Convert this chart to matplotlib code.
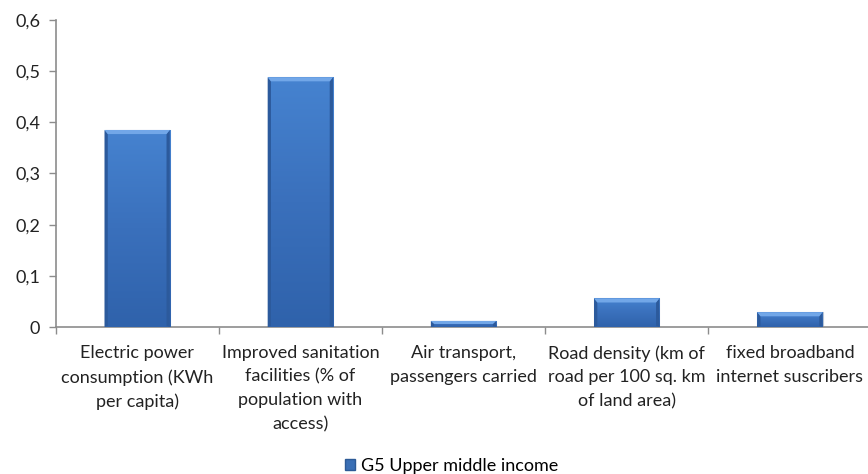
import numpy as np
import matplotlib.pyplot as plt
from matplotlib.colors import LinearSegmentedColormap
from matplotlib.patches import Rectangle, Polygon

categories = [
    "Electric power\nconsumption (KWh\nper capita)",
    "Improved sanitation\nfacilities (% of\npopulation with\naccess)",
    "Air transport,\npassengers carried",
    "Road density (km of\nroad per 100 sq. km\nof land area)",
    "fixed broadband\ninternet suscribers",
]
values = [0.385, 0.488, 0.012, 0.056, 0.029]
series_name = "G5 Upper middle income"
yticks = [0, 0.1, 0.2, 0.3, 0.4, 0.5, 0.6]
ytick_labels = ["0", "0,1", "0,2", "0,3", "0,4", "0,5", "0,6"]

plt.rcParams['font.family'] = ['Lato', 'DejaVu Sans']

fig = plt.figure(figsize=(8.68, 4.74), dpi=100)
ax = fig.add_axes([0.064, 0.31, 0.94, 0.648])

x = np.arange(len(categories))
bars = ax.bar(x, values, width=0.4, color='#3f76c2', edgecolor='#b8c4d4', linewidth=0.8, zorder=2)

# vertical shading, lighter at the top
cmap = LinearSegmentedColormap.from_list('shade', ['#2f62ab', '#3a70bc', '#4683d0'])
grad = np.linspace(0, 1, 256).reshape(-1, 1)
bevel = 0.008   # height of the top bevel, in data units
side = 0.02     # width of the side bevels, in category units
for b in bars:
    x0, w, h = b.get_x(), b.get_width(), b.get_height()
    im = ax.imshow(grad, cmap=cmap, aspect='auto', origin='lower',
                   extent=[x0, x0 + w, 0, h], zorder=3)
    im.set_clip_path(b)
    cap = min(bevel, h * 0.5)
    # darker sides and a lighter sloped top edge
    ax.add_patch(Polygon([(x0, 0), (x0 + side, cap * 0.3), (x0 + side, h - cap), (x0, h)],
                         closed=True, color='#2c5a9c', lw=0, zorder=4))
    ax.add_patch(Polygon([(x0 + w, 0), (x0 + w - side, cap * 0.3), (x0 + w - side, h - cap), (x0 + w, h)],
                         closed=True, color='#2c5a9c', lw=0, zorder=4))
    ax.add_patch(Polygon([(x0, h), (x0 + w, h), (x0 + w - side, h - cap), (x0 + side, h - cap)],
                         closed=True, color='#72a7e8', lw=0, zorder=4))

ax.set_xlim(-0.5, len(categories) - 0.5)
ax.set_ylim(0, 0.6)
ax.set_yticks(yticks)
ax.set_yticklabels(ytick_labels, fontsize=13, color='#222222')
ax.set_xticks(x)
ax.set_xticklabels(categories, fontsize=13, color='#222222', linespacing=1.58, va='top')
ax.tick_params(axis='x', length=0, pad=13)
ax.set_xticks(np.arange(-0.5, len(categories) + 0.5, 1), minor=True)
ax.tick_params(axis='x', which='minor', length=5, color='#8c8c8c', width=1)
ax.tick_params(axis='y', length=5, color='#8c8c8c', width=1, pad=6)

for s in ['top', 'right']:
    ax.spines[s].set_visible(False)
for s in ['left', 'bottom']:
    ax.spines[s].set_color('#8c8c8c')
    ax.spines[s].set_linewidth(1.2)

ax.legend([Rectangle((0, 0), 1, 1, color='#3a6fb5', ec='#2d5a96')], [series_name],
          loc='center', bbox_to_anchor=(0.52, 0.017), bbox_transform=fig.transFigure,
          frameon=False, fontsize=13, handlelength=0.6, handleheight=0.6, handletextpad=0.3)

fig.savefig('out.png', dpi=100, facecolor='white')
